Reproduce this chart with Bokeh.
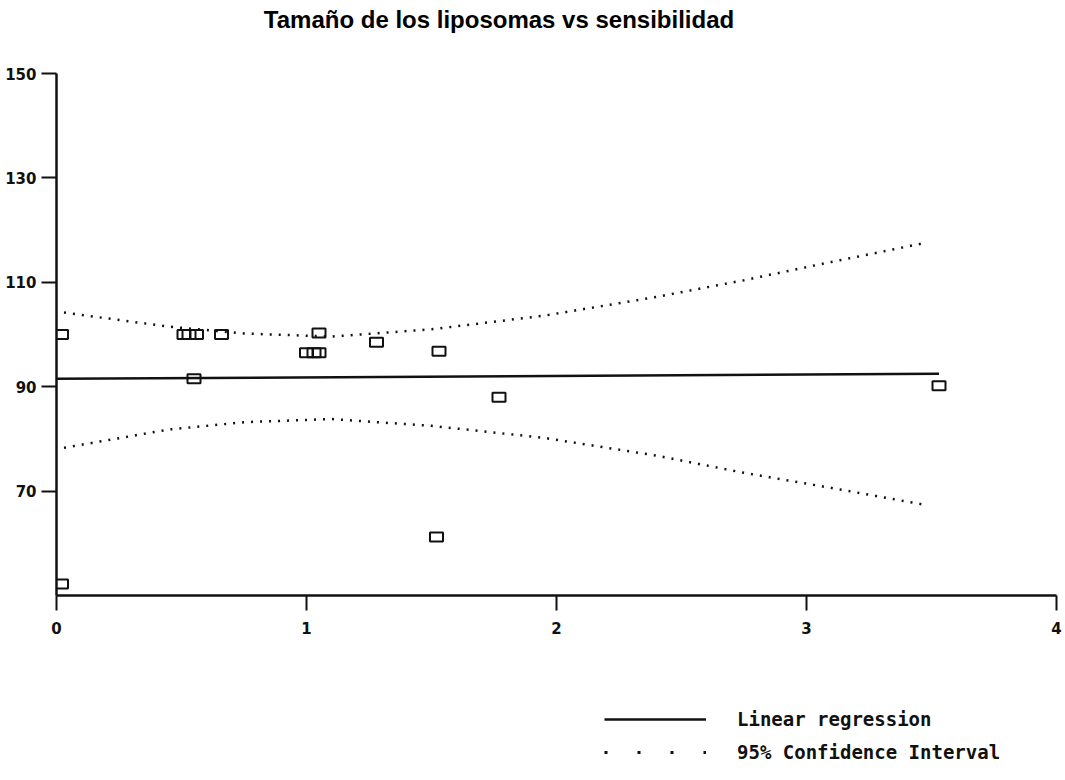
from bokeh.plotting import figure
from bokeh.models import Range1d, FixedTicker, Legend, LegendItem, Label
from bokeh.layouts import column
from bokeh.embed import file_html
from bokeh.resources import INLINE

# ---- data ----
size_x = [0.02, 0.02, 0.51, 0.53, 0.56, 0.66, 0.55, 1.00, 1.03, 1.05, 1.05, 1.28, 1.53, 1.52, 1.77, 3.53]
sens_y = [100.0, 52.2, 100.0, 100.0, 100.0, 100.0, 91.5, 96.5, 96.5, 96.5, 100.3, 98.5, 96.8, 61.2, 88.0, 90.2]

reg_x = [0.0, 3.53]
reg_y = [91.5, 92.5]

ci_x = [0.03, 0.45, 0.75, 1.1, 1.5, 1.95, 2.4, 2.75, 3.1, 3.47]
ci_upper = [104.2, 101.5, 100.2, 99.6, 101.0, 103.6, 107.2, 110.4, 113.9, 117.5]
ci_lower = [78.3, 81.8, 83.2, 83.8, 82.5, 80.2, 76.8, 73.5, 70.6, 67.4]

x_ticks = [0, 1, 2, 3, 4]
y_ticks = [70, 90, 110, 130, 150]

title_text = "Tamaño de los liposomas vs sensibilidad"
legend_labels = ["Linear regression", "95% Confidence Interval"]

INK = "#111111"
LEFT, FRAME_W, RIGHT = 56, 1000, 9


def blank_strip(h):
    f = figure(
        frame_width=FRAME_W, frame_height=h,
        min_border_left=LEFT, min_border_right=RIGHT, min_border_top=0, min_border_bottom=0,
        x_range=Range1d(LEFT, LEFT + FRAME_W), y_range=Range1d(0, h),
        output_backend="svg", toolbar_location=None,
        background_fill_color="white", border_fill_color="white",
    )
    f.axis.visible = False
    f.xgrid.visible = False
    f.ygrid.visible = False
    f.outline_line_color = None
    return f


# ---- title strip ----
TH = 45
tf = blank_strip(TH)
tf.add_layout(Label(
    x=498.5, y=TH - 19, text=title_text,
    text_align="center", text_baseline="alphabetic",
    text_font="Liberation Sans", text_font_style="bold",
    text_font_size="24px", text_color="black",
))

# ---- main chart ----
p = figure(
    frame_width=FRAME_W, frame_height=522,
    min_border_left=LEFT, min_border_right=RIGHT, min_border_top=73 - TH, min_border_bottom=45,
    x_range=Range1d(0, 4), y_range=Range1d(50, 150),
    output_backend="svg", toolbar_location=None,
    background_fill_color="white", border_fill_color="white",
)
p.outline_line_color = None
p.xgrid.visible = False
p.ygrid.visible = False

for ax in (p.xaxis[0], p.yaxis[0]):
    ax.axis_line_width = 2.5
    ax.axis_line_color = INK
    ax.major_tick_line_width = 2
    ax.major_tick_line_color = INK
    ax.major_tick_out = 15
    ax.major_tick_in = 0
    ax.minor_tick_line_color = None
    ax.major_label_text_font = "DejaVu Sans"
    ax.major_label_text_font_style = "bold"
    ax.major_label_text_font_size = "15px"
    ax.major_label_text_color = INK

p.xaxis[0].ticker = FixedTicker(ticks=x_ticks)
p.yaxis[0].ticker = FixedTicker(ticks=y_ticks)
p.xaxis[0].major_label_standoff = 11
p.yaxis[0].major_label_standoff = 5

# confidence interval curves
p.line(ci_x, ci_upper, line_color=INK, line_width=2.5, line_dash="2 7")
p.line(ci_x, ci_lower, line_color=INK, line_width=2.5, line_dash="2 7")

# regression line
p.line(reg_x, reg_y, line_color=INK, line_width=2.5)

# data points as hollow boxes
p.rect(size_x, sens_y, width=13, height=9, width_units="screen", height_units="screen",
       fill_alpha=0, line_color=INK, line_width=2)

# ---- legend strip below the chart ----
lg = blank_strip(126)
# proxy renderers placed outside the visible range, used only for legend glyphs
r_solid = lg.line(x=[-50, -40], y=[-50, -40], line_color=INK, line_width=2.5)
r_dots = lg.line(x=[-50, -40], y=[-50, -40], line_color=INK, line_width=3, line_dash="3 30")

legend = Legend(
    items=[LegendItem(label=legend_labels[0], renderers=[r_solid]),
           LegendItem(label=legend_labels[1], renderers=[r_dots])],
    location=(548, 3),
    orientation="vertical",
    glyph_width=102, glyph_height=18, label_height=18,
    label_standoff=31, spacing=11, padding=0, margin=0,
    border_line_color=None, background_fill_alpha=0,
    label_text_font="DejaVu Sans Mono", label_text_font_style="bold",
    label_text_font_size="19px", label_text_color=INK,
)
lg.add_layout(legend, "center")

layout = column(tf, p, lg, spacing=0)
open("out.html", "w").write(file_html(layout, INLINE))
